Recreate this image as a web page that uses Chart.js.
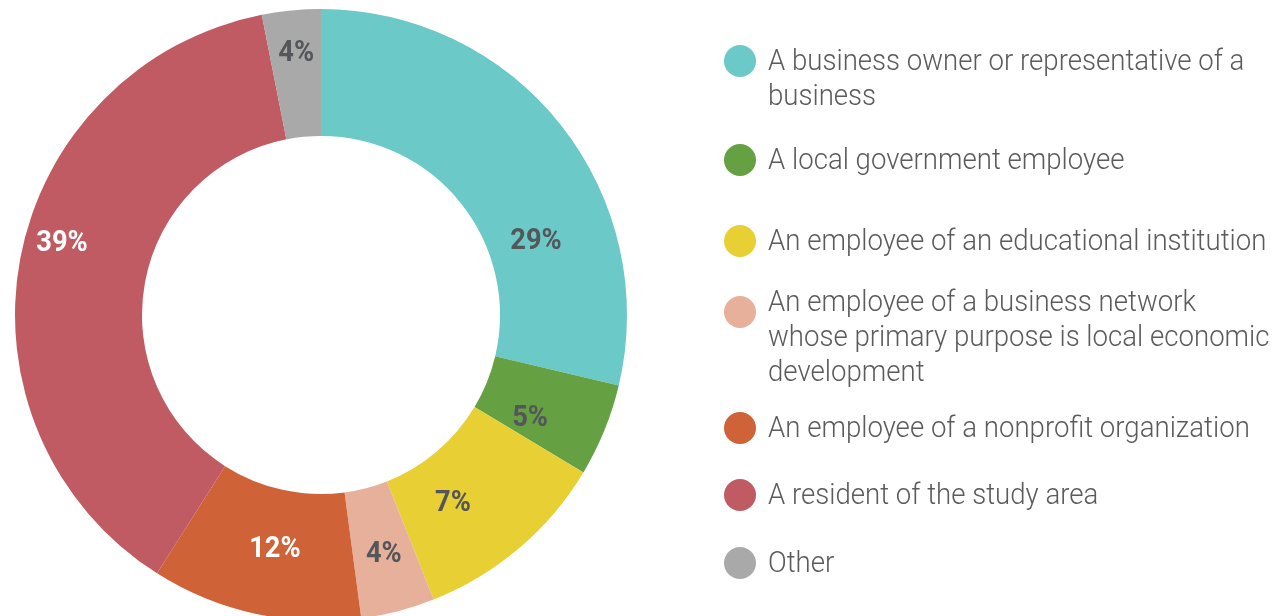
<!DOCTYPE html>
<html>
<head>
<meta charset="utf-8">
<script src="https://cdn.jsdelivr.net/npm/chart.js@4/dist/chart.umd.min.js"></script>
<style>
  html, body { margin: 0; padding: 0; background: #fff; overflow: hidden; }
  #wrap { width: 1278px; height: 630px; }
</style>
</head>
<body>
<div id="wrap"><canvas id="pie" width="1278" height="630"></canvas></div>
<script>
// respondent categories (legend text, pre-wrapped as in the original)
var categories = [
    ['A business owner or representative of a', 'business'],
    ['A local government employee'],
    ['An employee of an educational institution'],
    ['An employee of a business network', 'whose primary purpose is local economic', 'development'],
    ['An employee of a nonprofit organization'],
    ['A resident of the study area'],
    ['Other']
];
// slice sizes (percent)
var shares = [28.7, 4.9, 10.4, 3.9, 11.1, 37.9, 3.1];
// the printed labels
var shareLabels = ['29%', '5%', '7%', '4%', '12%', '39%', '4%'];
var colors = ['#6BC9C8', '#65A142', '#E8CF33', '#E6B09A', '#CF6236', '#C15B63', '#A9A9A9'];
var labelColors = ['#54565a', '#54565a', '#54565a', '#54565a', '#ffffff', '#ffffff', '#54565a'];

// label placement: angle from 12 o'clock (deg) and distance as a share of outer radius
var labelAngle = [70.8, 116, 144.8, 165.2, 191.2, 285.7, 354.6];
var labelDist = [0.744, 0.76, 0.748, 0.804, 0.776, 0.879, 0.863];
// legend rows (y of first text line)
var legendRowY = [62, 161, 242, 303, 429, 496, 564];

function condText(ctx, txt, x, y, sx) {
    ctx.save();
    ctx.translate(x, y);
    ctx.scale(sx, 1);
    ctx.fillText(txt, 0, 0);
    ctx.restore();
}

var sliceLabels = {
    id: 'sliceLabels',
    afterDatasetsDraw: function(chart) {
        var ctx = chart.ctx;
        var arcs = chart.getDatasetMeta(0).data;
        ctx.save();
        ctx.font = 'bold 29px Roboto';
        ctx.textAlign = 'center';
        ctx.textBaseline = 'middle';
        arcs.forEach(function(arc, i) {
            var a = labelAngle[i] * Math.PI / 180;
            var r = arc.outerRadius * labelDist[i];
            ctx.fillStyle = labelColors[i];
            // +2 so the digits sit on the visual centre rather than the em box
            condText(ctx, shareLabels[i], arc.x + r * Math.sin(a), arc.y - r * Math.cos(a) + 2, 0.94);
        });
        ctx.restore();
    }
};

var sideLegend = {
    id: 'sideLegend',
    afterDraw: function(chart) {
        var ctx = chart.ctx;
        ctx.save();
        ctx.font = '300 30px Roboto';
        ctx.textAlign = 'left';
        ctx.textBaseline = 'middle';
        categories.forEach(function(lines, i) {
            var y = legendRowY[i];
            ctx.fillStyle = colors[i];
            ctx.beginPath();
            ctx.arc(740, y + (lines.length > 2 ? 9 : -1), 16, 0, Math.PI * 2);
            ctx.fill();
            ctx.fillStyle = '#5b5b5b';
            lines.forEach(function(t, j) {
                condText(ctx, t, 768, y + j * 35, 0.92);
            });
        });
        ctx.restore();
    }
};

new Chart(document.getElementById('pie'), {
    type: 'doughnut',
    data: {
        labels: categories,
        datasets: [{ data: shares, backgroundColor: colors, borderWidth: 0 }]
    },
    options: {
        responsive: false,
        animation: false,
        cutout: '58.5%',
        layout: { padding: { left: 15, top: 9, right: 651, bottom: 9 } },
        plugins: { legend: { display: false }, tooltip: { enabled: false } }
    },
    plugins: [sliceLabels, sideLegend]
});
</script>
</body>
</html>
